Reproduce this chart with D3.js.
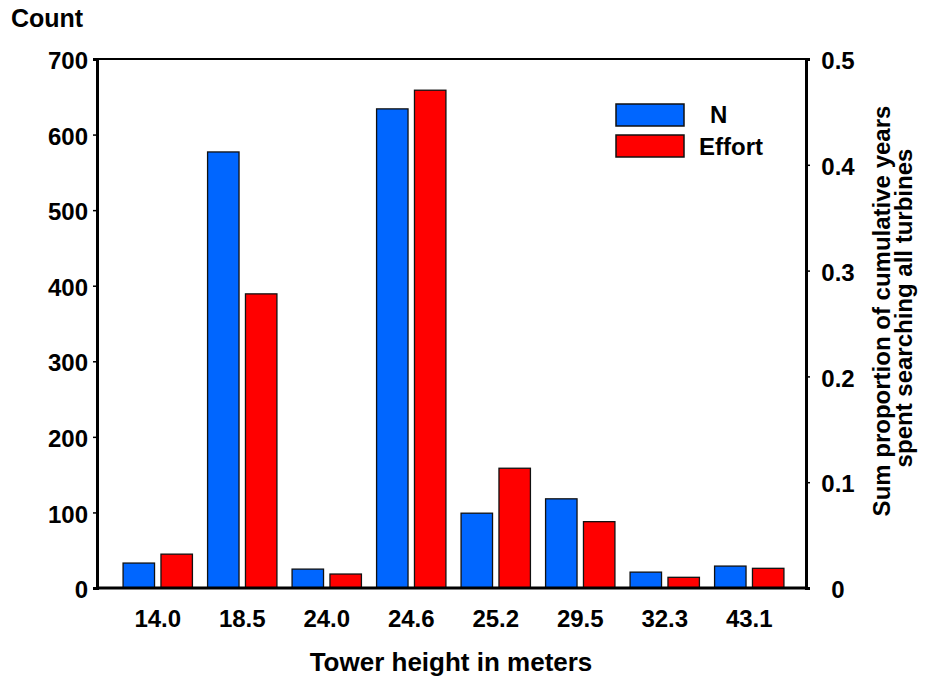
<!DOCTYPE html>
<html>
<head>
<meta charset="utf-8">
<script src="https://cdn.jsdelivr.net/npm/d3@7"></script>
<style>
  html, body { margin: 0; padding: 0; background: #fff; }
  svg text { font-family: "Liberation Sans", Arial, Helvetica, sans-serif; font-weight: bold; fill: #000; }
</style>
</head>
<body>
<svg id="chart" width="933" height="680"></svg>
<script>
const categories = ["14.0", "18.5", "24.0", "24.6", "25.2", "29.5", "32.3", "43.1"];
const countN = [33, 577, 25, 634, 99, 118, 21, 29];
const effort = [0.032, 0.278, 0.0132, 0.4705, 0.1132, 0.0627, 0.0101, 0.0186];
const seriesNames = ["N", "Effort"];
const seriesColors = ["#0066ff", "#ff0000"];
const leftTicks = [0, 100, 200, 300, 400, 500, 600, 700];
const rightTicks = [0, 0.1, 0.2, 0.3, 0.4, 0.5];

const svg = d3.select("#chart");
const L = 97, R = 806, T = 59, B = 588;

const yLeft = d3.scaleLinear().domain([0, 700]).range([B, T]);
const yRight = d3.scaleLinear().domain([0, 0.5]).range([B, T]);

const x = d3.scaleBand().domain(categories).range([L + 18.5, R - 14.5]).paddingInner(0).paddingOuter(0);
const xs = d3.scaleBand().domain(seriesNames).range([0, x.bandwidth()]).paddingInner(0.17).paddingOuter(0.2);

// bars
const g = svg.append("g");
categories.forEach((c, i) => {
  g.append("rect")
    .attr("x", x(c) + xs("N"))
    .attr("y", yLeft(countN[i]))
    .attr("width", xs.bandwidth())
    .attr("height", B - yLeft(countN[i]))
    .attr("fill", seriesColors[0])
    .attr("stroke", "#111").attr("stroke-width", 1.3);
  g.append("rect")
    .attr("x", x(c) + xs("Effort"))
    .attr("y", yRight(effort[i]))
    .attr("width", xs.bandwidth())
    .attr("height", B - yRight(effort[i]))
    .attr("fill", seriesColors[1])
    .attr("stroke", "#111").attr("stroke-width", 1.3);
});

// frame lines
svg.append("line").attr("x1", L).attr("x2", R).attr("y1", T).attr("y2", T).attr("stroke", "#000").attr("stroke-width", 2);
svg.append("line").attr("x1", L).attr("x2", R).attr("y1", B).attr("y2", B).attr("stroke", "#000").attr("stroke-width", 3);

// left axis
const axL = svg.append("g").attr("transform", `translate(${L},0)`)
  .call(d3.axisLeft(yLeft).tickValues(leftTicks).tickSize(4).tickPadding(5).tickFormat(d3.format("d")));
axL.select(".domain").attr("stroke-width", 3).attr("stroke", "#000");
axL.selectAll(".tick line").attr("stroke-width", 1.5);
axL.selectAll("text").style("font-size", "24px").attr("dy", "0.4em").attr("x", -9);

// right axis
const axR = svg.append("g").attr("transform", `translate(${R},0)`)
  .call(d3.axisRight(yRight).tickValues(rightTicks).tickSize(4).tickFormat(d => d === 0 ? "0" : d3.format(".1f")(d)));
axR.select(".domain").attr("stroke-width", 3).attr("stroke", "#000");
axR.selectAll(".tick line").attr("stroke-width", 1.5);
axR.selectAll("text").style("font-size", "24px").attr("dy", "0.4em").attr("x", 32).attr("text-anchor", "middle");

// x category labels
const axB = svg.append("g").attr("transform", `translate(0,${B})`)
  .call(d3.axisBottom(x).tickSize(0).tickPadding(0));
axB.select(".domain").remove();
axB.selectAll("text").style("font-size", "24px").attr("dy", 0).attr("y", 39);

// titles
svg.append("text").attr("x", 11).attr("y", 27).style("font-size", "25px").text("Count");

svg.append("text").attr("x", 451).attr("y", 671)
  .attr("text-anchor", "middle").style("font-size", "26px").text("Tower height in meters");

svg.append("text").attr("transform", "translate(890,311) rotate(-90)")
  .attr("text-anchor", "middle").style("font-size", "24px").text("Sum proportion of cumulative years");
svg.append("text").attr("transform", "translate(912,308) rotate(-90)")
  .attr("text-anchor", "middle").style("font-size", "24px").text("spent searching all turbines");

// legend
const leg = svg.append("g");
seriesNames.forEach((s, i) => {
  leg.append("rect").attr("x", 616).attr("y", 104 + i * 31).attr("width", 68).attr("height", 22)
    .attr("fill", seriesColors[i]).attr("stroke", "#111").attr("stroke-width", 1.5);
});
leg.append("text").attr("x", 710).attr("y", 123).style("font-size", "24px").text("N");
leg.append("text").attr("x", 699).attr("y", 155).style("font-size", "24px").text("Effort");
</script>
</body>
</html>
